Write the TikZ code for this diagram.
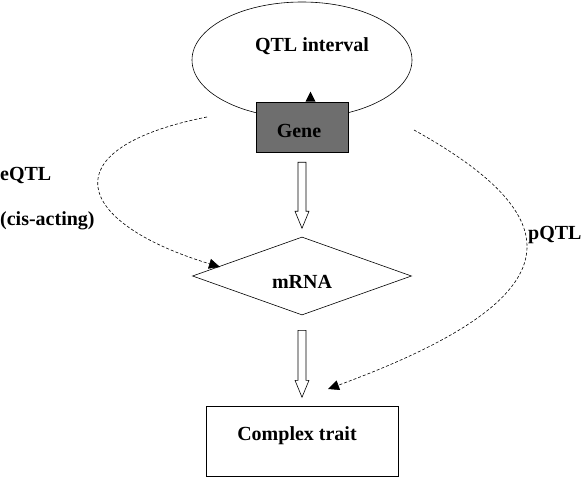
\documentclass[tikz,border=0pt]{standalone}
\usepackage{fontspec}
\setmainfont{Liberation Serif}
\usetikzlibrary{shapes.geometric,arrows.meta,calc}
\begin{document}
\begin{tikzpicture}[x=1pt,y=-1pt,
  every node/.style={font=\bfseries\fontsize{20}{24}\selectfont, inner sep=0pt},
  outline/.style={draw=black, line width=0.6pt},
  hollow/.style={draw=black, line width=0.6pt, fill=white},
  dashlink/.style={draw=black, line width=0.6pt, dash pattern=on 3pt off 2pt,
    -{Triangle[width=10pt,length=11pt]}},
  lbl/.style={anchor=west}]
\useasboundingbox (0,0) rectangle (583,478);
\fill[white] (0,0) rectangle (583,478);
% QTL interval ellipse
\node[outline, ellipse, minimum width=220pt, minimum height=116pt] (qtl) at (302,60) {};
\node (qtltext) at (312,46) {QTL interval};
% Gene box
\node[outline, fill={rgb,255:red,110;green,110;blue,110}, minimum width=92pt, minimum height=50pt] (gene) at (302,127) {};
\node (genetext) at (299,131) {Gene};
\fill[black] ($(gene.north)+(8.5,-10)$) -- ($(gene.north)+(13.5,0)$) -- ($(gene.north)+(3.5,0)$) -- cycle;
% mRNA diamond
\node[outline, diamond, aspect=2.8, minimum width=219pt, minimum height=78pt] (mrna) at (302,276) {};
\node (mrnatext) at (302,282) {mRNA};
% Complex trait box
\node[outline, minimum width=192pt, minimum height=70pt] (trait) at (302,441.5) {};
\node (traittext) at (297,436) {Complex trait};
% hollow arrows
\coordinate (a1) at ($(gene.south)+(0,10)$);
\coordinate (a2) at ($(mrna.south)+(0,15)$);
\draw[hollow] ($(a1)+(-4,0)$) -- ++(0,49) -- ++(-3,0) -- ++(7,17) -- ++(7,-17) -- ++(-3,0) -- ++(0,-49) -- cycle;
\draw[hollow] ($(a2)+(-4,0)$) -- ++(0,50) -- ++(-3,0) -- ++(7,17) -- ++(7,-17) -- ++(-3,0) -- ++(0,-50) -- cycle;
% dashed links
\coordinate (es) at (207,117);
\coordinate (ee) at (220,267);
\draw[dashlink] (es) .. controls (50,148) and (72,222) .. (ee);
\coordinate (ps) at (414,130);
\coordinate (pe) at (328,389);
\draw[dashlink] (ps) .. controls (580,222) and (570,300) .. (pe);
% labels
\node[lbl] (eqtl) at (0,176) {eQTL};
\node[lbl] (cis) at (0,221) {(cis-acting)};
\node[lbl] (pqtl) at (528,235) {pQTL};
\end{tikzpicture}
\end{document}
